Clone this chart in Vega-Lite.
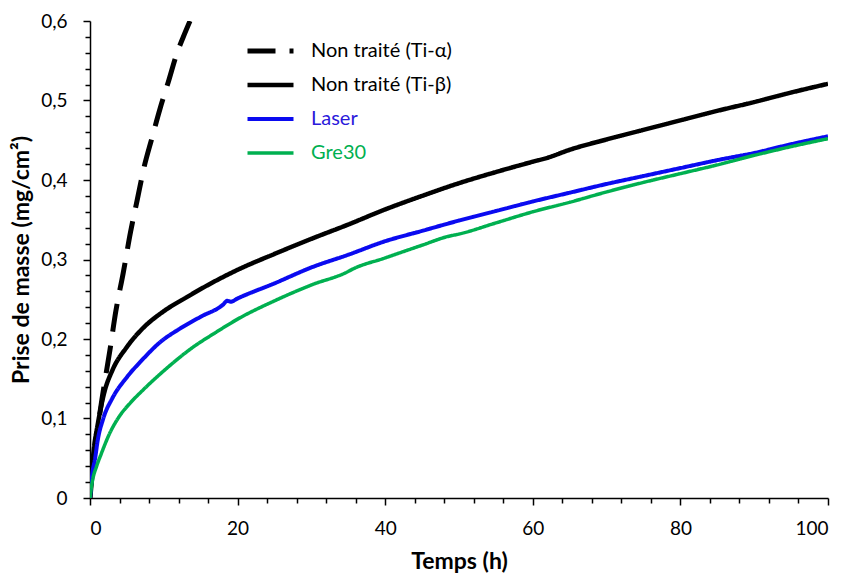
{
  "$schema": "https://vega.github.io/schema/vega-lite/v6.json",
  "width": 738,
  "height": 477,
  "autosize": {"type": "none"},
  "padding": {"left": 90, "top": 21, "right": 19, "bottom": 78},
  "background": "white",
  "config": {
    "view": {"stroke": null},
    "font": "Lato",
    "axis": {"grid": false, "domainColor": "#000000", "domainWidth": 1.5, "tickColor": "#000000", "tickWidth": 1.5, "labelFont": "Lato", "labelFontSize": 19, "labelColor": "#000000", "titleFont": "Lato", "titleFontSize": 23, "titleFontWeight": "bold", "titleColor": "#000000", "labelOverlap": false}
  },
  "data": {
    "values": [
      {"s": "Non traité (Ti-α)", "t": 0, "v": 0},
      {"s": "Non traité (Ti-α)", "t": 0.5, "v": 0.05},
      {"s": "Non traité (Ti-α)", "t": 1, "v": 0.085},
      {"s": "Non traité (Ti-α)", "t": 1.6, "v": 0.123},
      {"s": "Non traité (Ti-α)", "t": 2.7, "v": 0.186},
      {"s": "Non traité (Ti-α)", "t": 3.5, "v": 0.235},
      {"s": "Non traité (Ti-α)", "t": 4.5, "v": 0.283},
      {"s": "Non traité (Ti-α)", "t": 5.5, "v": 0.335},
      {"s": "Non traité (Ti-α)", "t": 6.4, "v": 0.375},
      {"s": "Non traité (Ti-α)", "t": 7.3, "v": 0.415},
      {"s": "Non traité (Ti-α)", "t": 8.4, "v": 0.453},
      {"s": "Non traité (Ti-α)", "t": 9.5, "v": 0.49},
      {"s": "Non traité (Ti-α)", "t": 10.6, "v": 0.523},
      {"s": "Non traité (Ti-α)", "t": 11.8, "v": 0.56},
      {"s": "Non traité (Ti-α)", "t": 12.6, "v": 0.579},
      {"s": "Non traité (Ti-α)", "t": 13.55, "v": 0.6},

      {"s": "Non traité (Ti-β)", "t": 0, "v": 0},
      {"s": "Non traité (Ti-β)", "t": 0.5, "v": 0.06},
      {"s": "Non traité (Ti-β)", "t": 1, "v": 0.09},
      {"s": "Non traité (Ti-β)", "t": 2, "v": 0.135},
      {"s": "Non traité (Ti-β)", "t": 3, "v": 0.16},
      {"s": "Non traité (Ti-β)", "t": 5, "v": 0.19},
      {"s": "Non traité (Ti-β)", "t": 7, "v": 0.212},
      {"s": "Non traité (Ti-β)", "t": 10, "v": 0.235},
      {"s": "Non traité (Ti-β)", "t": 13, "v": 0.252},
      {"s": "Non traité (Ti-β)", "t": 16, "v": 0.268},
      {"s": "Non traité (Ti-β)", "t": 20, "v": 0.287},
      {"s": "Non traité (Ti-β)", "t": 25, "v": 0.307},
      {"s": "Non traité (Ti-β)", "t": 30, "v": 0.326},
      {"s": "Non traité (Ti-β)", "t": 35, "v": 0.344},
      {"s": "Non traité (Ti-β)", "t": 40, "v": 0.363},
      {"s": "Non traité (Ti-β)", "t": 45, "v": 0.38},
      {"s": "Non traité (Ti-β)", "t": 50, "v": 0.396},
      {"s": "Non traité (Ti-β)", "t": 55, "v": 0.41},
      {"s": "Non traité (Ti-β)", "t": 60, "v": 0.423},
      {"s": "Non traité (Ti-β)", "t": 62, "v": 0.428},
      {"s": "Non traité (Ti-β)", "t": 65, "v": 0.438},
      {"s": "Non traité (Ti-β)", "t": 70, "v": 0.451},
      {"s": "Non traité (Ti-β)", "t": 75, "v": 0.463},
      {"s": "Non traité (Ti-β)", "t": 80, "v": 0.475},
      {"s": "Non traité (Ti-β)", "t": 85, "v": 0.487},
      {"s": "Non traité (Ti-β)", "t": 90, "v": 0.498},
      {"s": "Non traité (Ti-β)", "t": 95, "v": 0.51},
      {"s": "Non traité (Ti-β)", "t": 100, "v": 0.521},

      {"s": "Laser", "t": 0, "v": 0},
      {"s": "Laser", "t": 0.3, "v": 0.03},
      {"s": "Laser", "t": 0.7, "v": 0.05},
      {"s": "Laser", "t": 1, "v": 0.07},
      {"s": "Laser", "t": 1.8, "v": 0.1},
      {"s": "Laser", "t": 3, "v": 0.125},
      {"s": "Laser", "t": 5, "v": 0.152},
      {"s": "Laser", "t": 7, "v": 0.173},
      {"s": "Laser", "t": 9.5, "v": 0.196},
      {"s": "Laser", "t": 12, "v": 0.212},
      {"s": "Laser", "t": 15, "v": 0.228},
      {"s": "Laser", "t": 18, "v": 0.243},
      {"s": "Laser", "t": 18.6, "v": 0.248},
      {"s": "Laser", "t": 19.1, "v": 0.247},
      {"s": "Laser", "t": 20, "v": 0.251},
      {"s": "Laser", "t": 25, "v": 0.27},
      {"s": "Laser", "t": 30, "v": 0.29},
      {"s": "Laser", "t": 35, "v": 0.306},
      {"s": "Laser", "t": 40, "v": 0.323},
      {"s": "Laser", "t": 45, "v": 0.336},
      {"s": "Laser", "t": 50, "v": 0.349},
      {"s": "Laser", "t": 55, "v": 0.361},
      {"s": "Laser", "t": 60, "v": 0.373},
      {"s": "Laser", "t": 65, "v": 0.384},
      {"s": "Laser", "t": 70, "v": 0.395},
      {"s": "Laser", "t": 75, "v": 0.405},
      {"s": "Laser", "t": 80, "v": 0.415},
      {"s": "Laser", "t": 85, "v": 0.425},
      {"s": "Laser", "t": 90, "v": 0.434},
      {"s": "Laser", "t": 95, "v": 0.445},
      {"s": "Laser", "t": 100, "v": 0.455},

      {"s": "Gre30", "t": 0, "v": 0},
      {"s": "Gre30", "t": 0.3, "v": 0.02},
      {"s": "Gre30", "t": 0.9, "v": 0.04},
      {"s": "Gre30", "t": 1.5, "v": 0.055},
      {"s": "Gre30", "t": 2.7, "v": 0.082},
      {"s": "Gre30", "t": 4, "v": 0.103},
      {"s": "Gre30", "t": 5.5, "v": 0.12},
      {"s": "Gre30", "t": 7.2, "v": 0.136},
      {"s": "Gre30", "t": 10, "v": 0.16},
      {"s": "Gre30", "t": 14, "v": 0.19},
      {"s": "Gre30", "t": 17, "v": 0.208},
      {"s": "Gre30", "t": 20, "v": 0.225},
      {"s": "Gre30", "t": 25, "v": 0.248},
      {"s": "Gre30", "t": 30, "v": 0.268},
      {"s": "Gre30", "t": 35, "v": 0.285},
      {"s": "Gre30", "t": 35.4, "v": 0.287},
      {"s": "Gre30", "t": 40, "v": 0.302},
      {"s": "Gre30", "t": 45, "v": 0.318},
      {"s": "Gre30", "t": 48.5, "v": 0.329},
      {"s": "Gre30", "t": 50, "v": 0.332},
      {"s": "Gre30", "t": 55, "v": 0.346},
      {"s": "Gre30", "t": 60, "v": 0.36},
      {"s": "Gre30", "t": 65, "v": 0.372},
      {"s": "Gre30", "t": 70, "v": 0.385},
      {"s": "Gre30", "t": 75, "v": 0.397},
      {"s": "Gre30", "t": 80, "v": 0.408},
      {"s": "Gre30", "t": 85, "v": 0.419},
      {"s": "Gre30", "t": 90, "v": 0.431},
      {"s": "Gre30", "t": 95, "v": 0.442},
      {"s": "Gre30", "t": 100, "v": 0.452}
    ]
  },
  "mark": {"type": "line", "interpolate": "monotone", "strokeCap": "butt", "clip": true},
  "encoding": {
    "x": {
      "field": "t", "type": "quantitative",
      "scale": {"domain": [0, 100], "nice": false},
      "axis": {
        "title": "Temps (h)",
        "values": [0,4,8,12,16,20,24,28,32,36,40,44,48,52,56,60,64,68,72,76,80,84,88,92,96,100],
        "labelExpr": "datum.value % 20 == 0 ? datum.label : ''",
        "tickSize": {"condition": {"test": "datum.value % 20 == 0", "value": 7}, "value": 5},
        "labelPadding": 14,
        "titlePadding": 12
      }
    },
    "y": {
      "field": "v", "type": "quantitative",
      "scale": {"domain": [0, 0.6], "nice": false},
      "axis": {
        "title": "Prise de masse (mg/cm²)",
        "values": [0,0.02,0.04,0.06,0.08,0.1,0.12,0.14,0.16,0.18,0.2,0.22,0.24,0.26,0.28,0.3,0.32,0.34,0.36,0.38,0.4,0.42,0.44,0.46,0.48,0.5,0.52,0.54,0.56,0.58,0.6],
        "labelExpr": "datum.value == 0 ? '0' : (abs(datum.value*10 - round(datum.value*10)) < 0.001 ? replace(format(datum.value, '.1f'), '.', ',') : '')",
        "tickSize": {"condition": {"test": "abs(datum.value*10 - round(datum.value*10)) < 0.001", "value": 7}, "value": 5},
        "labelPadding": 16,
        "titlePadding": 7
      }
    },
    "color": {
      "field": "s", "type": "nominal",
      "scale": {"domain": ["Non traité (Ti-α)", "Non traité (Ti-β)", "Laser", "Gre30"], "range": ["#000000", "#000000", "#0A0AF0", "#00B050"]},
      "legend": {
        "title": null,
        "orient": "none",
        "legendX": 155,
        "legendY": 18,
        "padding": 0,
        "symbolType": "stroke",
        "symbolSize": 2116,
        "symbolStrokeWidth": 3.5,
        "labelFont": "Lato",
        "labelFontSize": 20,
        "labelOffset": 15,
        "rowPadding": 12,
        "encode": {
          "symbols": {"update": {"size": {"value": 2116}, "y": {"value": 12}, "strokeDash": {"signal": "datum.value === 'Non traité (Ti-α)' ? [24, 10] : [1, 0]"}}},
          "labels": {"update": {"y": {"value": 12}, "fill": {"signal": "datum.label === 'Laser' ? '#2B1ADB' : (datum.label === 'Gre30' ? '#00B050' : '#000000')"}}}
        }
      }
    },
    "strokeDash": {
      "field": "s", "type": "nominal",
      "scale": {"domain": ["Non traité (Ti-α)", "Non traité (Ti-β)", "Laser", "Gre30"], "range": [[28, 14], [1, 0], [1, 0], [1, 0]]},
      "legend": {
        "title": null,
        "orient": "none",
        "legendX": 155,
        "legendY": 18,
        "padding": 0,
        "symbolType": "stroke",
        "symbolSize": 2116,
        "symbolStrokeWidth": 3.5,
        "labelFont": "Lato",
        "labelFontSize": 20,
        "labelOffset": 15,
        "rowPadding": 12
      }
    },
    "strokeWidth": {
      "field": "s", "type": "nominal",
      "scale": {"domain": ["Non traité (Ti-α)", "Non traité (Ti-β)", "Laser", "Gre30"], "range": [5, 3.5, 4.5, 4.5]},
      "legend": null
    }
  }
}
